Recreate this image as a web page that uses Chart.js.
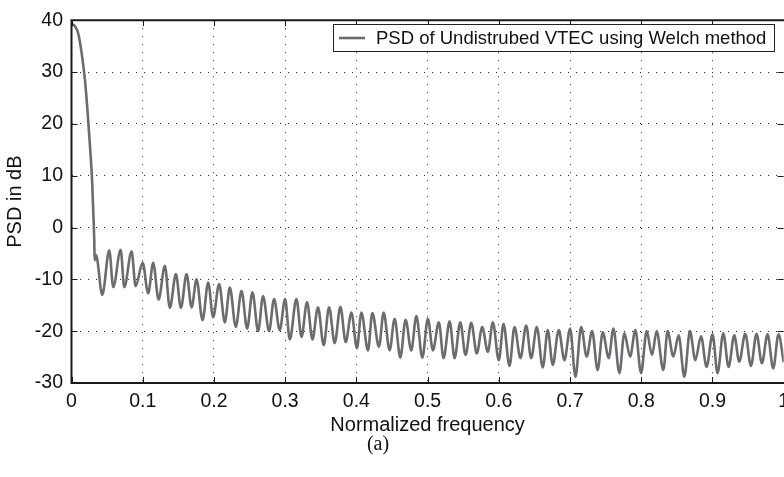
<!DOCTYPE html>
<html>
<head>
<meta charset="utf-8">
<script src="https://cdn.jsdelivr.net/npm/chart.js@4.4.1/dist/chart.umd.min.js"></script>
<style>
    body { margin: 0; background: #fff; }
    #wrap { position: relative; width: 784px; height: 477px; overflow: hidden; }
    #psdChart { position: absolute; left: 0; top: 0; }
    #caption {
        position: absolute; left: 328px; width: 100px; top: 432px;
        text-align: center; font: 20px "Liberation Serif", "Times New Roman", serif; color: #111;
    }
</style>
</head>
<body>
<div id="wrap">
    <canvas id="psdChart" width="800" height="477"></canvas>
    <div id="caption">(a)</div>
</div>
<script>
// Normalized frequency of each read point (main lobe, then peak / trough pairs)
const freq = [
    0, 0.004, 0.0095, 0.0143, 0.0189, 0.0227, 0.0259, 0.0288, 0.0306, 0.032, 0.0325, 0.0345, 0.036, 0.0432,
    0.0530, 0.0586, 0.0690, 0.0741, 0.0844, 0.0900, 0.0999, 0.1077, 0.1147, 0.1223,
    0.1311, 0.1381, 0.1466, 0.1536, 0.1616, 0.1686, 0.1756, 0.1840, 0.1919, 0.1989,
    0.2073, 0.2153, 0.2223, 0.2307, 0.2387, 0.2466, 0.2541, 0.2620, 0.2690, 0.2774,
    0.2844, 0.2924, 0.2999, 0.3065, 0.3158, 0.3229, 0.3307, 0.3383, 0.3461, 0.3541,
    0.3616, 0.3696, 0.3776, 0.3850, 0.3930, 0.4008, 0.4070, 0.4163, 0.4224, 0.4317,
    0.4383, 0.4467, 0.4537, 0.4617, 0.4691, 0.4771, 0.4842, 0.4926, 0.5004, 0.5074,
    0.5158, 0.5224, 0.5309, 0.5379, 0.5459, 0.5533, 0.5613, 0.5691, 0.5767, 0.5846,
    0.5916, 0.6000, 0.6066, 0.6150, 0.6220, 0.6304, 0.6384, 0.6454, 0.6533, 0.6617,
    0.6687, 0.6757, 0.6841, 0.6921, 0.7001, 0.7076, 0.7156, 0.7234, 0.7310, 0.7388,
    0.7459, 0.7543, 0.7609, 0.7693, 0.7763, 0.7843, 0.7917, 0.7997, 0.8076, 0.8151,
    0.8216, 0.8310, 0.8370, 0.8450, 0.8525, 0.8605, 0.8684, 0.8759, 0.8839, 0.8917,
    0.9001, 0.9071, 0.9152, 0.9226, 0.9306, 0.9376, 0.9460, 0.9540, 0.9619, 0.9694,
    0.9773, 0.9853, 0.9927, 1.0
];

// PSD in dB at those frequencies
const psd = [
    39.3, 39.0, 37.4, 33.6, 28.5, 22.1, 15.8, 9.4, 3.0, -2.7, -6.3, -5.3, -6.0, -13.0,
    -4.4, -11.5, -4.3, -11.5, -4.6, -11.3, -6.8, -12.7, -6.8, -13.9,
    -7.4, -15.5, -9.0, -15.5, -9.0, -15.4, -10.0, -17.9, -10.6, -17.3,
    -10.9, -18.3, -11.6, -19.2, -12.2, -19.5, -12.5, -20.0, -13.2, -20.0,
    -13.8, -19.8, -13.8, -21.6, -13.8, -21.1, -14.4, -21.6, -15.4, -22.7,
    -15.4, -22.3, -15.3, -22.1, -16.4, -23.3, -16.4, -23.7, -16.5, -23.0,
    -16.4, -23.7, -17.6, -25.1, -17.8, -23.7, -17.1, -25.1, -17.6, -23.7,
    -18.3, -25.2, -18.1, -25.2, -18.3, -24.6, -18.4, -24.3, -19.2, -24.0,
    -18.3, -25.6, -18.6, -26.7, -19.2, -25.2, -18.9, -25.2, -19.2, -27.0,
    -19.8, -26.5, -19.8, -25.6, -19.5, -28.8, -19.2, -24.9, -20.0, -27.5,
    -20.2, -25.2, -19.5, -28.1, -20.4, -24.9, -19.8, -28.1, -20.0, -24.6,
    -20.0, -27.5, -20.0, -24.9, -20.8, -28.8, -20.0, -25.6, -21.0, -26.9,
    -20.6, -28.1, -20.4, -26.9, -20.8, -25.9, -20.5, -26.7, -20.5, -26.2,
    -20.6, -27.2, -20.6, -26.0
];

const seriesLabel = 'PSD of Undistrubed VTEC using Welch method';
const xRange = [0, 1];
const yRange = [-30, 40];

const lineColor = '#6c6c6e';
const sansFont = '"Liberation Sans", Arial, Helvetica, sans-serif';

// MATLAB-like frame: solid top/left/bottom, inward tick marks, boxed legend
const framePlugin = {
    id: 'frame',
    afterDraw(chart) {
        const ctx = chart.ctx;
        const area = chart.chartArea;
        const xs = chart.scales.x;
        const ys = chart.scales.y;
        const tickLen = 6;

        ctx.save();
        ctx.strokeStyle = '#1a1a1a';
        ctx.lineWidth = 2;
        ctx.beginPath();
        ctx.moveTo(area.left, area.top);
        ctx.lineTo(area.right + 2, area.top);
        ctx.moveTo(area.left, area.top - 1);
        ctx.lineTo(area.left, area.bottom + 1);
        ctx.moveTo(area.left - 1, area.bottom);
        ctx.lineTo(area.right + 2, area.bottom);
        ctx.stroke();

        ctx.lineWidth = 1;
        ctx.beginPath();
        xs.ticks.forEach(t => {
            const px = Math.round(xs.getPixelForValue(t.value)) + 0.5;
            ctx.moveTo(px, area.bottom);
            ctx.lineTo(px, area.bottom - tickLen);
            ctx.moveTo(px, area.top);
            ctx.lineTo(px, area.top + tickLen);
        });
        ys.ticks.forEach(t => {
            const py = Math.round(ys.getPixelForValue(t.value)) + 0.5;
            ctx.moveTo(area.left, py);
            ctx.lineTo(area.left + tickLen, py);
            ctx.moveTo(area.right, py);
            ctx.lineTo(area.right - tickLen, py);
        });
        ctx.stroke();

        // legend box
        const box = { left: 333.5, top: 24.5, right: 774.5, bottom: 51.5 };
        ctx.fillStyle = '#fff';
        ctx.fillRect(box.left, box.top, box.right - box.left, box.bottom - box.top);
        ctx.strokeStyle = '#222';
        ctx.lineWidth = 1;
        ctx.strokeRect(box.left, box.top, box.right - box.left, box.bottom - box.top);

        const midY = (box.top + box.bottom) / 2;
        ctx.strokeStyle = lineColor;
        ctx.lineWidth = 2.6;
        ctx.beginPath();
        ctx.moveTo(339, midY);
        ctx.lineTo(365, midY);
        ctx.stroke();

        ctx.fillStyle = '#111';
        ctx.font = '18.5px ' + sansFont;
        ctx.textAlign = 'left';
        ctx.textBaseline = 'middle';
        ctx.fillText(chart.data.datasets[0].label, 376, midY + 1);
        ctx.restore();
    }
};

// hide grid lines that sit on the frame
function gridColor(ctx, ends) {
    const v = ctx.tick ? ctx.tick.value : null;
    if (v === null || ends.includes(v)) return 'rgba(0,0,0,0)';
    return '#222';
}

new Chart(document.getElementById('psdChart'), {
    type: 'line',
    data: {
        datasets: [{
            label: seriesLabel,
            data: freq.map((f, i) => ({ x: f, y: psd[i] })),
            borderColor: lineColor,
            borderWidth: 2.6,
            pointRadius: 0,
            fill: false,
            cubicInterpolationMode: 'monotone'
        }]
    },
    options: {
        responsive: false,
        animation: false,
        layout: { padding: { left: 0, right: 16.3, top: 16.3, bottom: 40 } },
        plugins: {
            legend: { display: false },
            tooltip: { enabled: false }
        },
        scales: {
            x: {
                type: 'linear',
                min: xRange[0],
                max: xRange[1],
                afterFit: scale => { scale.height = 54; },
                ticks: {
                    stepSize: 0.1,
                    padding: 7,
                    color: '#111',
                    font: { family: sansFont, size: 19.5 },
                    maxRotation: 0,
                    callback: v => String(Math.round(v * 10) / 10)
                },
                grid: {
                    drawTicks: false,
                    color: ctx => gridColor(ctx, xRange),
                    lineWidth: 1
                },
                border: { display: false, dash: [1, 7] },
                title: {
                    display: true,
                    text: 'Normalized frequency',
                    color: '#111',
                    font: { family: sansFont, size: 20 },
                    padding: { top: 0, bottom: 0 }
                }
            },
            y: {
                min: yRange[0],
                max: yRange[1],
                afterFit: scale => { scale.width = 71.5; },
                ticks: {
                    stepSize: 10,
                    padding: 8.5,
                    color: '#111',
                    font: { family: sansFont, size: 19.5 }
                },
                grid: {
                    drawTicks: false,
                    color: ctx => gridColor(ctx, yRange),
                    lineWidth: 1
                },
                border: { display: false, dash: [1, 7] },
                title: {
                    display: true,
                    text: 'PSD in dB',
                    color: '#111',
                    font: { family: sansFont, size: 20 },
                    padding: { top: 3, bottom: 0 }
                }
            }
        }
    },
    plugins: [framePlugin]
});
</script>
</body>
</html>
